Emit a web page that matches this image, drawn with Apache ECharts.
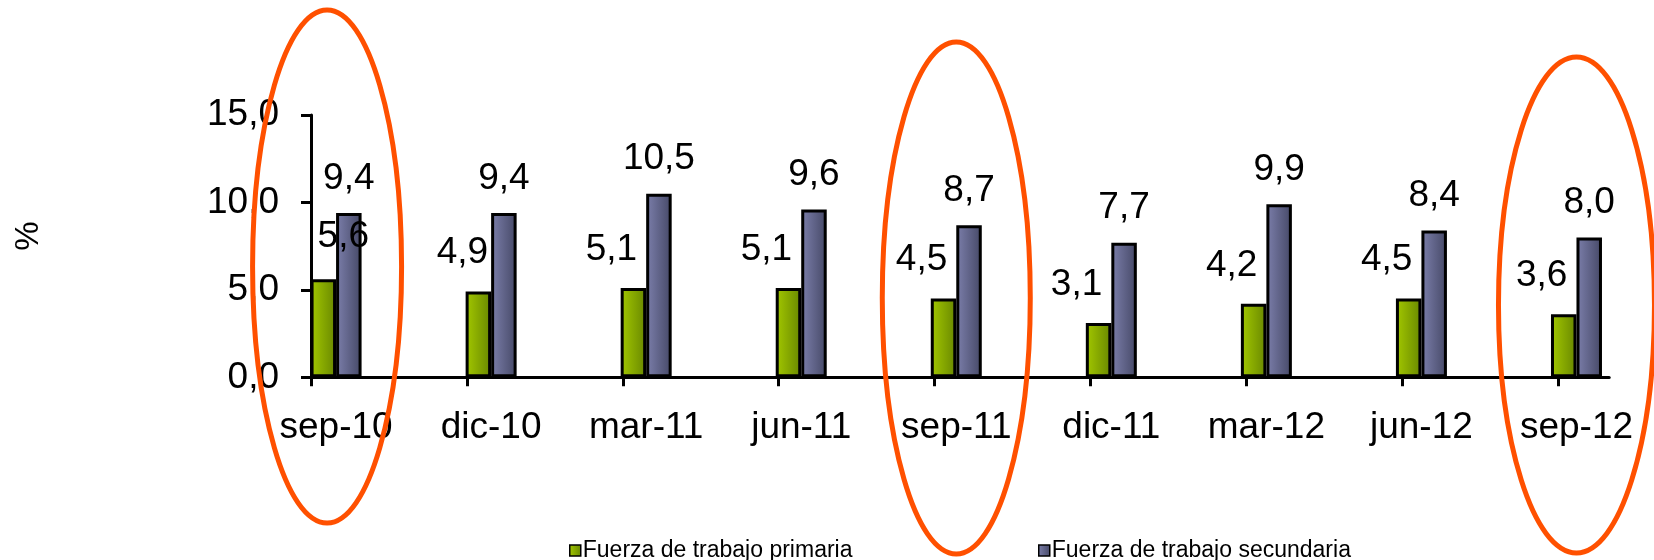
<!DOCTYPE html>
<html>
<head>
<meta charset="utf-8">
<script src="https://cdn.jsdelivr.net/npm/echarts@6/dist/echarts.min.js"></script>
<style>
  html, body { margin: 0; padding: 0; background: #fff; }
  #chart { width: 1654px; height: 560px; }
</style>
</head>
<body>
<div id="chart"></div>
<script>
// datos
const categories = ['sep-10', 'dic-10', 'mar-11', 'jun-11', 'sep-11', 'dic-11', 'mar-12', 'jun-12', 'sep-12'];
const primaria = [5.6, 4.9, 5.1, 5.1, 4.5, 3.1, 4.2, 4.5, 3.6];
const secundaria = [9.4, 9.4, 10.5, 9.6, 8.7, 7.7, 9.9, 8.4, 8.0];
const seriesNames = ['Fuerza de trabajo primaria', 'Fuerza de trabajo secundaria'];
const yMin = 0, yMax = 15, yStep = 5;
const highlighted = ['sep-10', 'sep-11', 'sep-12'];

// geometria (px)
const BAND = 155.9;
const BAR_W = 25.5;
const FIRST_TICK = 311;
const TOP = 115, BOTTOM = 182.7;
const FONT = "'Liberation Sans', Arial, sans-serif";
const FS = 37;

const fmt = v => Number(v).toFixed(1).replace('.', ',');

const chart = echarts.init(document.getElementById('chart'));

const gridBarsLeft = FIRST_TICK + BAR_W - BAND / 2;
const gridBarsRight = 1654 - (gridBarsLeft + categories.length * BAND);
const xMax = (categories.length - 1) + 2 * BAR_W / BAND;
const axisWidth = xMax * BAND;

const green = new echarts.graphic.LinearGradient(0, 0, 1, 0, [
  { offset: 0, color: '#a3c800' }, { offset: 1, color: '#688700' }
]);
const blue = new echarts.graphic.LinearGradient(0, 0, 1, 0, [
  { offset: 0, color: '#7c7fab' }, { offset: 1, color: '#454866' }
]);

const labelBase = { show: true, position: 'top', color: '#000', fontSize: FS, fontFamily: FONT, formatter: p => fmt(p.value) };

// desplazamientos manuales de etiquetas (como en el original)
const greenLabelOffset = { 0: [20, -4], 1: [-16, 0] };

const legendStyle = {
  itemWidth: 11, itemHeight: 11, icon: 'rect', top: 539, padding: 0,
  itemStyle: { borderColor: '#000', borderWidth: 1.5 },
  textStyle: { fontSize: 23, fontFamily: FONT, color: '#000', padding: [0, 0, 0, -3] }
};

let option = {
  animation: false,
  backgroundColor: '#fff',
  grid: [
    { left: gridBarsLeft, right: gridBarsRight, top: TOP, bottom: BOTTOM },
    { left: FIRST_TICK, width: axisWidth, top: TOP, bottom: BOTTOM }
  ],
  legend: [
    Object.assign({ data: [seriesNames[0]], left: 569 }, legendStyle),
    Object.assign({ data: [seriesNames[1]], left: 1038 }, legendStyle)
  ],
  xAxis: [
    {
      type: 'category', gridIndex: 0, data: categories, boundaryGap: true,
      axisLine: { show: false }, axisTick: { show: false },
      axisLabel: { color: '#000', fontSize: FS, fontFamily: FONT, margin: 32, interval: 0 }
    },
    {
      type: 'value', gridIndex: 1, min: 0, max: xMax,
      axisLine: { show: true, lineStyle: { color: '#000', width: 3 } },
      axisTick: { show: true, length: 9, lineStyle: { color: '#000', width: 3 },
        customValues: categories.map((c, i) => i) },
      axisLabel: { show: false }, splitLine: { show: false }
    }
  ],
  yAxis: [
    { type: 'value', gridIndex: 0, min: yMin, max: yMax, interval: yStep, show: false },
    {
      type: 'value', gridIndex: 1, min: yMin, max: yMax, interval: yStep,
      name: '%', nameLocation: 'middle', nameGap: 266, nameRotate: 90,
      nameTextStyle: { fontSize: 33, fontFamily: FONT, color: '#000', padding: [0, 0, 0, 20] },
      axisLine: { show: true, lineStyle: { color: '#000', width: 3 } },
      axisTick: { show: true, length: 10, lineStyle: { color: '#000', width: 3 } },
      axisLabel: { color: '#000', fontSize: FS, fontFamily: FONT, margin: 32, formatter: fmt },
      splitLine: { show: false }
    }
  ],
  series: [
    {
      name: seriesNames[0], type: 'bar', xAxisIndex: 0, yAxisIndex: 0,
      barWidth: BAR_W, barGap: '0%',
      itemStyle: { color: green, borderColor: '#000', borderWidth: 3 },
      label: Object.assign({}, labelBase, { distance: 20, offset: [-22, 0] }),
      data: primaria.map((v, i) => greenLabelOffset[i] ? { value: v, label: { offset: greenLabelOffset[i] } } : v)
    },
    {
      name: seriesNames[1], type: 'bar', xAxisIndex: 0, yAxisIndex: 0,
      barWidth: BAR_W, barGap: '0%',
      itemStyle: { color: blue, borderColor: '#000', borderWidth: 3 },
      label: Object.assign({}, labelBase, { distance: 16 }),
      data: secundaria
    }
  ]
};

chart.setOption(option);

// elipses de resaltado
const ellipseSpec = {
  'sep-10': { dx: -9, cy: 266.5, rx: 74.5, ry: 256.5 },
  'sep-11': { dx: 0, cy: 298, rx: 74, ry: 256 },
  'sep-12': { dx: 0, cy: 305, rx: 78, ry: 248 }
};
const ellipses = highlighted.map(cat => {
  const s = ellipseSpec[cat];
  const cx = chart.convertToPixel({ xAxisIndex: 0 }, cat);
  return {
    type: 'ellipse', z: 100, silent: true,
    shape: { cx: cx + s.dx, cy: s.cy, rx: s.rx, ry: s.ry },
    style: { fill: 'none', stroke: '#ff5000', lineWidth: 5 }
  };
});
chart.setOption({ graphic: ellipses });
</script>
</body>
</html>
